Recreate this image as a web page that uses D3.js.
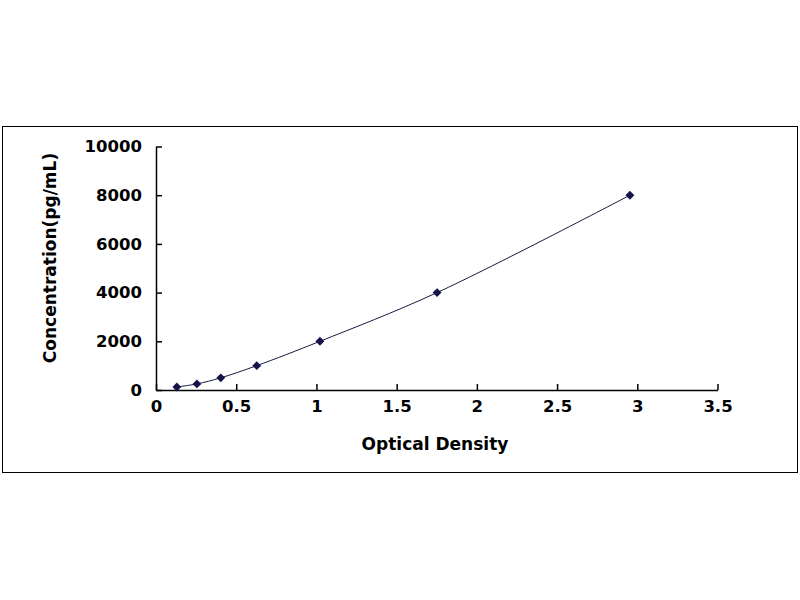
<!DOCTYPE html>
<html>
<head>
<meta charset="utf-8">
<script src="https://cdn.jsdelivr.net/npm/d3@7"></script>
<style>
  body { margin: 0; background: #fff; }
  svg text { font-family: "DejaVu Sans", Verdana, sans-serif; font-weight: bold; fill: #000; }
</style>
</head>
<body>
<svg id="chart" width="800" height="600"></svg>
<script>
// standard curve: optical density vs concentration
var od = [0.13, 0.255, 0.404, 0.628, 1.022, 1.752, 2.954];
var conc = [125, 250, 500, 1000, 2000, 4000, 8000];
var xTicks = [0, 0.5, 1, 1.5, 2, 2.5, 3, 3.5];
var yTicks = [0, 2000, 4000, 6000, 8000, 10000];

var svg = d3.select("#chart");

// outer frame
svg.append("rect")
  .attr("x", 2.5).attr("y", 126.5)
  .attr("width", 795).attr("height", 346)
  .attr("fill", "none").attr("stroke", "#000").attr("stroke-width", 1);

var x = d3.scaleLinear().domain([0, 3.5]).range([156, 717.5]);
var y = d3.scaleLinear().domain([0, 10000]).range([390, 146.5]);

var xAxis = svg.append("g")
  .attr("transform", "translate(0,390)")
  .call(d3.axisBottom(x).tickValues(xTicks).tickFormat(String)
    .tickSizeInner(-6).tickSizeOuter(0).tickPadding(10));

var yAxis = svg.append("g")
  .attr("transform", "translate(156,0)")
  .call(d3.axisLeft(y).tickValues(yTicks).tickFormat(String)
    .tickSizeInner(-6).tickSizeOuter(0).tickPadding(14));

[xAxis, yAxis].forEach(function (g) {
  g.select(".domain").attr("stroke", "#000").attr("stroke-width", 1.5);
  g.selectAll(".tick line").attr("stroke", "#000").attr("stroke-width", 1.5);
  g.selectAll(".tick text").style("font-size", "16.5px").attr("fill", "#000");
});

// smoothed fit through the standards
var pts = od.map(function (d, i) { return [d, conc[i]]; });
var line = d3.line()
  .x(function (d) { return x(d[0]); })
  .y(function (d) { return y(d[1]); })
  .curve(d3.curveCatmullRom.alpha(0.5));

svg.append("path")
  .datum(pts)
  .attr("d", line)
  .attr("fill", "none")
  .attr("stroke", "#1a1a40")
  .attr("stroke-width", 1);

svg.append("g").selectAll("path")
  .data(pts)
  .enter().append("path")
  .attr("transform", function (d) { return "translate(" + x(d[0]) + "," + y(d[1]) + ")"; })
  .attr("d", d3.symbol().type(d3.symbolDiamond2).size(50))
  .attr("fill", "#14144a");

// axis titles
svg.append("text")
  .attr("x", 435).attr("y", 450)
  .attr("text-anchor", "middle")
  .style("font-size", "17px")
  .text("Optical Density");

svg.append("text")
  .attr("transform", "translate(56,258) rotate(-90)")
  .attr("text-anchor", "middle")
  .style("font-size", "17px")
  .text("Concentration(pg/mL)");
</script>
</body>
</html>
